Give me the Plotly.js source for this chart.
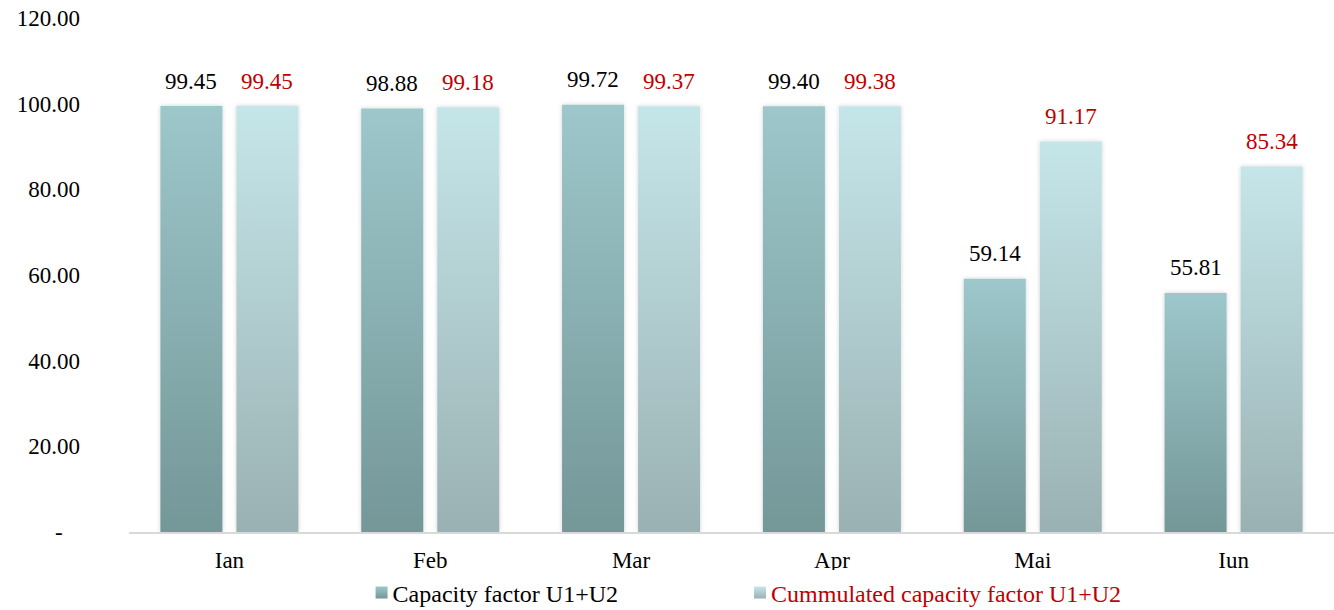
<!DOCTYPE html>
<html>
<head>
<meta charset="utf-8">
<script src="https://cdn.plot.ly/plotly-3.0.1.min.js"></script>
<style>
html,body{margin:0;padding:0;background:#fff;}
#chart{width:1334px;height:610px;}
</style>
</head>
<body>
<div id="chart"></div>
<script>
const months = ["Ian", "Feb", "Mar", "Apr", "Mai", "Iun"];
const capacityFactor = [99.45, 98.88, 99.72, 99.40, 59.14, 55.81];
const cumulatedFactor = [99.45, 99.18, 99.37, 99.38, 91.17, 85.34];
const tickValues = [0, 20, 40, 60, 80, 100, 120];
const tickLabels = ["-\u00a0\u00a0\u00a0", "20.00", "40.00", "60.00", "80.00", "100.00", "120.00"];
const seriesNames = ["Capacity factor U1+U2", "Cummulated capacity factor U1+U2"];

const FONT = "Liberation Serif, Times New Roman, serif";
const RED = "#C00000";
const PAD = "\u00a0".repeat(18);

const data = [
  {type: "bar", x: months, y: capacityFactor, name: seriesNames[0] + PAD,
   marker: {color: "#8AB3B6", line: {width: 0}}, hoverinfo: "skip"},
  {type: "bar", x: months, y: cumulatedFactor, name: "<span style='color:" + RED + "'>" + seriesNames[1] + "</span>",
   marker: {color: "#B3D4D7", line: {width: 0}}, hoverinfo: "skip"}
];

const annotations = [];
months.forEach((m, i) => {
  annotations.push({x: m, y: capacityFactor[i], xref: "x", yref: "y", text: capacityFactor[i].toFixed(2),
    showarrow: false, xshift: -38, yshift: 25, yanchor: "middle", font: {family: FONT, size: 23, color: "#000"}});
  annotations.push({x: m, y: cumulatedFactor[i], xref: "x", yref: "y", text: cumulatedFactor[i].toFixed(2),
    showarrow: false, xshift: 38, yshift: 25, yanchor: "middle", font: {family: FONT, size: 23, color: RED}});
});

const layout = {
  width: 1334, height: 610,
  margin: {l: 129, r: 0, t: 18, b: 78, autoexpand: false},
  paper_bgcolor: "#fff", plot_bgcolor: "#fff",
  font: {family: FONT, size: 23, color: "#000"},
  barmode: "group", bargap: 0.243, bargroupgap: 0.184,
  xaxis: {showgrid: false, showline: true, linecolor: "#D9D9D9", linewidth: 1.5,
    ticks: "", ticklabelstandoff: 7, tickfont: {family: FONT, size: 23, color: "#000"}, fixedrange: true},
  yaxis: {range: [0, 120], showgrid: false, zeroline: false, showline: false,
    tickvals: tickValues, ticktext: tickLabels, ticks: "", ticklabelstandoff: 48,
    tickfont: {family: FONT, size: 23, color: "#000"}, fixedrange: true},
  showlegend: true,
  legend: {orientation: "h", x: 0.193, xanchor: "left", yref: "container", y: 0.028, yanchor: "middle",
    font: {family: FONT, size: 24, color: "#000"}, itemwidth: 30, traceorder: "normal"},
  annotations: annotations
};

Plotly.newPlot("chart", data, layout, {staticPlot: true, displayModeBar: false}).then(gd => {
  const NS = "http://www.w3.org/2000/svg";
  const svg = gd.querySelector("svg.main-svg");
  let defs = svg.querySelector("defs");
  if (!defs) { defs = document.createElementNS(NS, "defs"); svg.insertBefore(defs, svg.firstChild); }
  const grads = [["#9DC7CB", "#749798"], ["#C5E6E9", "#9AB1B3"]];
  grads.forEach((g, i) => {
    const lg = document.createElementNS(NS, "linearGradient");
    lg.setAttribute("id", "barGrad" + i);
    lg.setAttribute("x1", "0"); lg.setAttribute("y1", "0"); lg.setAttribute("x2", "0"); lg.setAttribute("y2", "1");
    [[0, g[0]], [1, g[1]]].forEach(([o, c]) => {
      const s = document.createElementNS(NS, "stop");
      s.setAttribute("offset", o); s.setAttribute("stop-color", c);
      lg.appendChild(s);
    });
    defs.appendChild(lg);
  });
  const f = document.createElementNS(NS, "filter");
  f.setAttribute("id", "barShadow");
  f.setAttribute("x", "-20%"); f.setAttribute("y", "-5%"); f.setAttribute("width", "140%"); f.setAttribute("height", "110%");
  const ds = document.createElementNS(NS, "feDropShadow");
  ds.setAttribute("dx", "0"); ds.setAttribute("dy", "0"); ds.setAttribute("stdDeviation", "2");
  ds.setAttribute("flood-color", "#000"); ds.setAttribute("flood-opacity", "0.18");
  f.appendChild(ds); defs.appendChild(f);

  gd.querySelectorAll(".barlayer .trace").forEach((tr, i) => {
    tr.querySelectorAll("path").forEach(p => {
      p.style.fill = "url(#barGrad" + i + ")";
      p.setAttribute("filter", "url(#barShadow)");
    });
  });
  gd.querySelectorAll(".legend .traces").forEach((tr, i) => {
    tr.querySelectorAll(".legendpoints path").forEach(p => { p.style.fill = "url(#barGrad" + i + ")"; });
    tr.querySelectorAll("text.legendtext").forEach(t => {
      t.setAttribute("x", String(parseFloat(t.getAttribute("x") || "0") - 9));
      t.querySelectorAll("tspan[x]").forEach(ts => ts.setAttribute("x", String(parseFloat(ts.getAttribute("x")) - 9)));
    });
  });
  const clip = gd.querySelector(".legend .scrollbox");
  if (clip) clip.removeAttribute("clip-path");
});
</script>
</body>
</html>
